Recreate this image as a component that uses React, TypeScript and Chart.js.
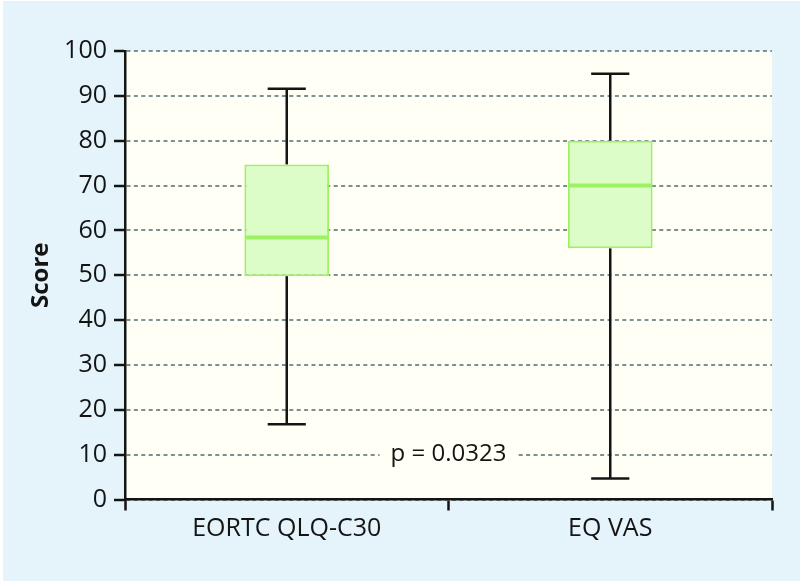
import React, { useEffect, useRef } from "react";
import { Chart, registerables } from "chart.js";

Chart.register(...registerables);

// ---- data ----
const categories = ["EORTC QLQ-C30", "EQ VAS"];
const whiskerMin = [16.8, 4.7];
const q1 = [49.8, 56.0];
const median = [58.4, 70.0];
const q3 = [74.7, 80.0];
const whiskerMax = [91.6, 94.9];
const yMinVal = 0;
const yMaxVal = 100;
const yStep = 10;
const yAxisTitle = "Score";
const annotationText = "p = 0.0323";
const annotationValue = 10;

// ---- styles ----
const OUTER_BG = "#e4f4fa";
const PLOT_BG = "#fffff5";
const BOX_FILL = "#dcfcc8";
const BOX_LINE = "#9cf262";
const INK = "#141414";
const GRID = "#7f8f8f";
const FONT = "'Open Sans', 'Noto Sans', sans-serif";

const backgroundPlugin = {
  id: "bgPlugin",
  beforeDraw(chart: any) {
    const { ctx, chartArea, width, height } = chart;
    ctx.save();
    ctx.fillStyle = "#ffffff";
    ctx.fillRect(0, 0, width, height);
    ctx.fillStyle = OUTER_BG;
    ctx.fillRect(3, 1, width - 3, height - 4);
    ctx.fillStyle = PLOT_BG;
    ctx.fillRect(chartArea.left, chartArea.top, chartArea.right - chartArea.left, chartArea.bottom - chartArea.top);
    ctx.restore();
  },
};

const line = (ctx: CanvasRenderingContext2D, x1: number, y1: number, x2: number, y2: number) => {
  ctx.beginPath();
  ctx.moveTo(x1, y1);
  ctx.lineTo(x2, y2);
  ctx.stroke();
};

const boxPlugin = {
  id: "boxWhiskers",
  beforeDatasetsDraw(chart: any) {
    const { ctx, scales } = chart;
    const x = scales.x;
    const y = scales.y;
    const meta = chart.getDatasetMeta(0);
    ctx.save();
    ctx.strokeStyle = INK;
    ctx.lineWidth = 2.5;
    categories.forEach((_, i) => {
      const bar = meta.data[i];
      const cx = x.getPixelForValue(i);
      const capHalf = bar.width * 0.225;
      const pMax = y.getPixelForValue(whiskerMax[i]);
      const pMin = y.getPixelForValue(whiskerMin[i]);
      const pQ1 = y.getPixelForValue(q1[i]);
      const pQ3 = y.getPixelForValue(q3[i]);
      line(ctx, cx, pMax, cx, pQ3);
      line(ctx, cx - capHalf, pMax, cx + capHalf, pMax);
      line(ctx, cx, pQ1, cx, pMin);
      line(ctx, cx - capHalf, pMin, cx + capHalf, pMin);
    });
    ctx.restore();
  },
  afterDatasetsDraw(chart: any) {
    const { ctx, scales } = chart;
    const x = scales.x;
    const y = scales.y;
    const meta = chart.getDatasetMeta(0);
    ctx.save();
    ctx.strokeStyle = BOX_LINE;
    ctx.lineWidth = 4;
    categories.forEach((_, i) => {
      const bar = meta.data[i];
      const cx = x.getPixelForValue(i);
      const half = bar.width / 2;
      const pMed = y.getPixelForValue(median[i]);
      line(ctx, cx - half + 1, pMed, cx + half - 1, pMed);
    });
    // annotation
    const ax = x.getPixelForValue(0.5);
    const ay = y.getPixelForValue(annotationValue);
    ctx.font = `24px ${FONT}`;
    const w = ctx.measureText(annotationText).width;
    ctx.fillStyle = PLOT_BG;
    ctx.fillRect(ax - w / 2 - 11, ay - 14, w + 22, 28);
    ctx.fillStyle = INK;
    ctx.textAlign = "center";
    ctx.textBaseline = "middle";
    ctx.fillText(annotationText, ax, ay);
    ctx.restore();
  },
};

export default function App() {
  const canvasRef = useRef<HTMLCanvasElement | null>(null);

  useEffect(() => {
    document.body.style.margin = "0";
    const canvas = canvasRef.current;
    if (!canvas) return;
    const yTicks: number[] = [];
    for (let v = yMinVal; v <= yMaxVal; v += yStep) yTicks.push(v);

    const chart = new Chart(canvas, {
      type: "bar",
      data: {
        labels: categories,
        datasets: [
          {
            data: categories.map((_, i) => [q1[i], q3[i]]) as any,
            backgroundColor: BOX_FILL,
            borderColor: BOX_LINE,
            borderWidth: 2,
            borderSkipped: false,
            barPercentage: 0.262,
            categoryPercentage: 1,
          },
        ],
      },
      options: {
        animation: false,
        responsive: false,
        devicePixelRatio: 1,
        layout: { padding: { top: 51, right: 28, left: 0, bottom: 0 } },
        plugins: {
          legend: { display: false },
          tooltip: { enabled: false },
        },
        scales: {
          x: {
            offset: true,
            grid: {
              offset: true,
              drawOnChartArea: false,
              drawTicks: true,
              tickLength: 11,
              tickColor: INK,
              tickWidth: 2.5,
              color: INK,
            },
            border: { display: true, color: INK, width: 2.5 },
            ticks: {
              color: INK,
              font: { family: FONT, size: 25 },
              padding: 3,
              maxRotation: 0,
            },
            afterFit: (scale: any) => {
              scale.height = 84.5;
            },
          },
          y: {
            min: yMinVal,
            max: yMaxVal,
            afterBuildTicks: (scale: any) => {
              scale.ticks = yTicks.map((v) => ({ value: v }));
            },
            grid: {
              color: GRID,
              lineWidth: 2,
              borderDash: [4, 3.4],
              tickBorderDash: [],
              tickLength: 11,
              tickColor: INK,
              tickWidth: 2.5,
            } as any,
            border: { display: true, color: INK, width: 2.5, dash: [4, 3.4] } as any,
            ticks: {
              color: INK,
              font: { family: FONT, size: 25 },
              padding: 7,
            },
            title: {
              display: true,
              text: yAxisTitle,
              color: INK,
              font: { family: FONT, size: 24, weight: "bold" },
              padding: { top: 27, bottom: 0 },
            },
            afterFit: (scale: any) => {
              scale.width = 125;
            },
          },
        },
      },
      plugins: [backgroundPlugin, boxPlugin],
    });
    return () => chart.destroy();
  }, []);

  return (
    <div style={{ position: "absolute", left: 0, top: 0, width: 800, height: 584 }}>
      <canvas ref={canvasRef} width={800} height={584} style={{ display: "block", width: 800, height: 584 }} />
    </div>
  );
}
